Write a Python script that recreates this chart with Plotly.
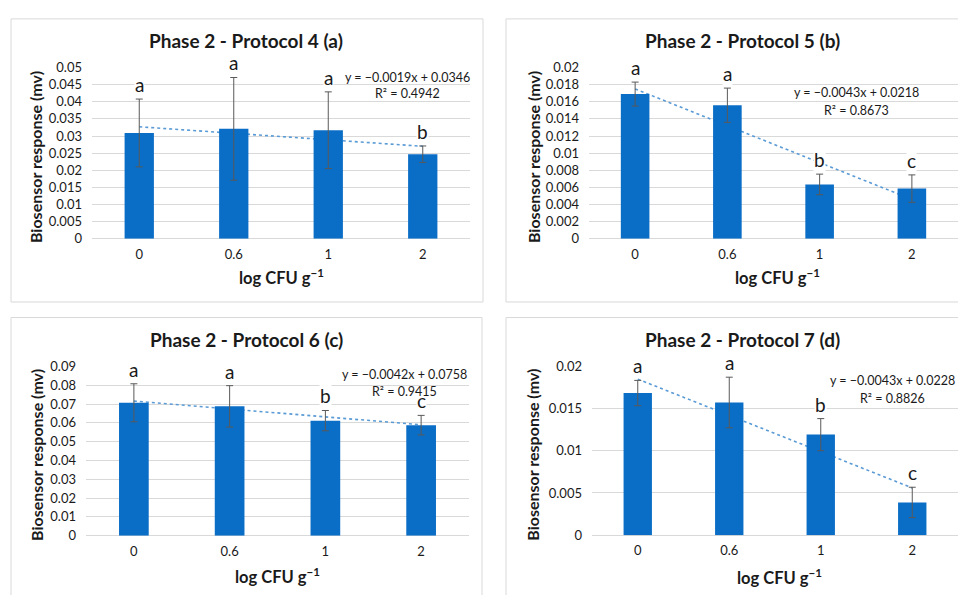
import plotly.graph_objects as go

# page is 966x603; the browser body keeps an 8px margin, so the figure is
# sized to fit inside it and all page-pixel positions are shifted by OFF.
PAGE_W, PAGE_H = 966, 603
OFF = 8
W, H = PAGE_W - 2 * OFF, PAGE_H - 2 * OFF

# ---------------- data ----------------
categories = ["0", "0.6", "1", "2"]

titles = ["Phase 2 - Protocol 4 (a)", "Phase 2 - Protocol 5 (b)",
          "Phase 2 - Protocol 6 (c)", "Phase 2 - Protocol 7 (d)"]

means_a = [0.0309, 0.0321, 0.0317, 0.0247]
errs_a = [0.0099, 0.0150, 0.0112, 0.0024]
letters_a = ["a", "a", "a", "b"]

means_b = [0.0169, 0.0156, 0.00635, 0.00586]
errs_b = [0.0014, 0.0020, 0.0012, 0.0016]
letters_b = ["a", "a", "b", "c"]

means_c = [0.0707, 0.0688, 0.0612, 0.0588]
errs_c = [0.0101, 0.0110, 0.0054, 0.0052]
letters_c = ["a", "a", "b", "c"]

means_d = [0.01685, 0.01573, 0.01192, 0.00388]
errs_d = [0.0015, 0.0030, 0.0019, 0.0018]
letters_d = ["a", "a", "b", "c"]

slopes = [-0.0019, -0.0043, -0.0042, -0.0043]
intercepts = [0.0346, 0.0218, 0.0758, 0.0228]
r_squared = [0.4942, 0.8673, 0.9415, 0.8826]

y_max = [0.05, 0.02, 0.09, 0.02]
y_dtick = [0.005, 0.002, 0.01, 0.005]

x_title = "log CFU g<sup>−1</sup>"
y_title = "Biosensor response (mv)"

means = [means_a, means_b, means_c, means_d]
errs = [errs_a, errs_b, errs_c, errs_d]
letters = [letters_a, letters_b, letters_c, letters_d]

# ---------------- layout geometry (page pixels) ----------------
plot_box = [(92, 61, 470, 237), (589, 61, 965, 237),
            (86, 368.3, 469, 542.3), (592, 368.3, 966, 541.7)]
frame_box = [(11, 11, 483, 302), (506, 11, 990, 302),
             (11, 318, 482, 630), (506, 318, 990, 630)]
title_pos = [(246, 33), (742, 33), (246, 341), (742, 341)]
ytitle_x = [35, 533, 37, 533]
xtitle_y = [276, 276, 584, 585]
eq_pos = [(407, 71, 88), (856, 87, 105), (404, 377, 394), (892, 383, 401)]

FONT = "Lato, 'Open Sans', sans-serif"
BAR_COLOR = "#0A6DC6"
GRID = "#D9D9D9"
TXT = "#1a1a1a"


def fx(x):
    return (x - OFF) / W


def fy(y):
    return 1 - (y - OFF) / H


fig = go.Figure()
annotations = []
shapes = []

for i in range(4):
    ax = "" if i == 0 else str(i + 1)
    ov = str(i + 5)
    xref, yref, yov = "x" + ax, "y" + ax, "y" + ov
    l, t, r, b = plot_box[i]

    # trendline on the base axis (drawn underneath the bars)
    trend_y = [slopes[i] * (k + 1) + intercepts[i] for k in range(len(categories))]
    fig.add_trace(go.Scatter(
        x=categories, y=trend_y, mode="lines",
        line=dict(color="#5B9BD5", width=1.6, dash="dot"),
        xaxis=xref, yaxis=yref, showlegend=False, hoverinfo="skip"))

    # bars on an overlaying axis with identical range (drawn on top)
    fig.add_trace(go.Bar(
        x=categories, y=means[i], width=0.31,
        marker=dict(color=BAR_COLOR, line=dict(width=0)),
        error_y=dict(type="data", array=errs[i], visible=True,
                     color="#595959", thickness=1, width=3.5),
        xaxis=xref, yaxis=yov, showlegend=False))

    xa = dict(domain=[max(fx(l), 0), min(fx(r), 1)], type="category", range=[-0.5, 3.5],
              showgrid=False, showline=False, zeroline=False, ticks="",
              tickfont=dict(family=FONT, size=13, color=TXT),
              ticklabelstandoff=6, anchor="y" + ax, fixedrange=True)
    ya = dict(domain=[fy(b), fy(t)], range=[0, y_max[i]], dtick=y_dtick[i],
              tick0=0, showgrid=True, gridcolor=GRID, gridwidth=1,
              zeroline=True, zerolinecolor=GRID, zerolinewidth=1,
              showline=False, ticks="",
              tickfont=dict(family=FONT, size=13, color=TXT),
              ticklabelstandoff=9, anchor="x" + ax, fixedrange=True)
    yo = dict(overlaying="y" + ax, range=[0, y_max[i]], visible=False,
              showgrid=False, zeroline=False, anchor="x" + ax, fixedrange=True)
    fig.update_layout({"xaxis" + ax: xa, "yaxis" + ax: ya, "yaxis" + ov: yo})

    # significance letters
    for k in range(len(categories)):
        annotations.append(dict(
            x=k, y=means[i][k] + errs[i][k], xref=xref, yref=yref,
            text=letters[i][k], showarrow=False, yanchor="bottom", yshift=2,
            font=dict(family=FONT, size=19, color=TXT), bgcolor="white",
            borderpad=0))

    # title
    annotations.append(dict(x=fx(title_pos[i][0]), y=fy(title_pos[i][1]),
                            xref="paper", yref="paper",
                            text="<b>" + titles[i] + "</b>", showarrow=False,
                            xanchor="center", yanchor="middle",
                            font=dict(family=FONT, size=19, color=TXT)))
    # y title
    annotations.append(dict(x=fx(ytitle_x[i]), y=fy((t + b) / 2 + 4),
                            xref="paper", yref="paper",
                            text="<b>" + y_title + "</b>", showarrow=False,
                            textangle=-90, xanchor="center", yanchor="middle",
                            font=dict(family=FONT, size=16, color=TXT)))
    # x title
    annotations.append(dict(x=fx((l + r) / 2), y=fy(xtitle_y[i]),
                            xref="paper", yref="paper",
                            text="<b>" + x_title + "</b>", showarrow=False,
                            xanchor="center", yanchor="middle",
                            font=dict(family=FONT, size=16.5, color=TXT)))
    # trendline equation
    ex, ey1, ey2 = eq_pos[i]
    eq1 = f"y = −{abs(slopes[i]):.4f}x + {intercepts[i]:.4f}"
    eq2 = f"R² = {r_squared[i]:.4f}"
    for txt, yy_ in ((eq1, ey1), (eq2, ey2)):
        annotations.append(dict(x=fx(ex), y=fy(yy_), xref="paper", yref="paper",
                                text=txt, showarrow=False,
                                xanchor="center", yanchor="middle",
                                font=dict(family=FONT, size=12.5, color=TXT)))

    # chart-area frame
    fl, ft, fr, fb = frame_box[i]
    shapes.append(dict(type="rect", xref="paper", yref="paper",
                       x0=fx(fl), x1=fx(fr), y0=fy(fb), y1=fy(ft),
                       line=dict(color="#D9D9D9", width=1), layer="below"))

fig.update_layout(
    width=W, height=H, margin=dict(l=0, r=0, t=0, b=0),
    paper_bgcolor="white", plot_bgcolor="white",
    annotations=annotations, shapes=shapes, showlegend=False,
)

fig.write_html("out.html", config={"displayModeBar": False})
